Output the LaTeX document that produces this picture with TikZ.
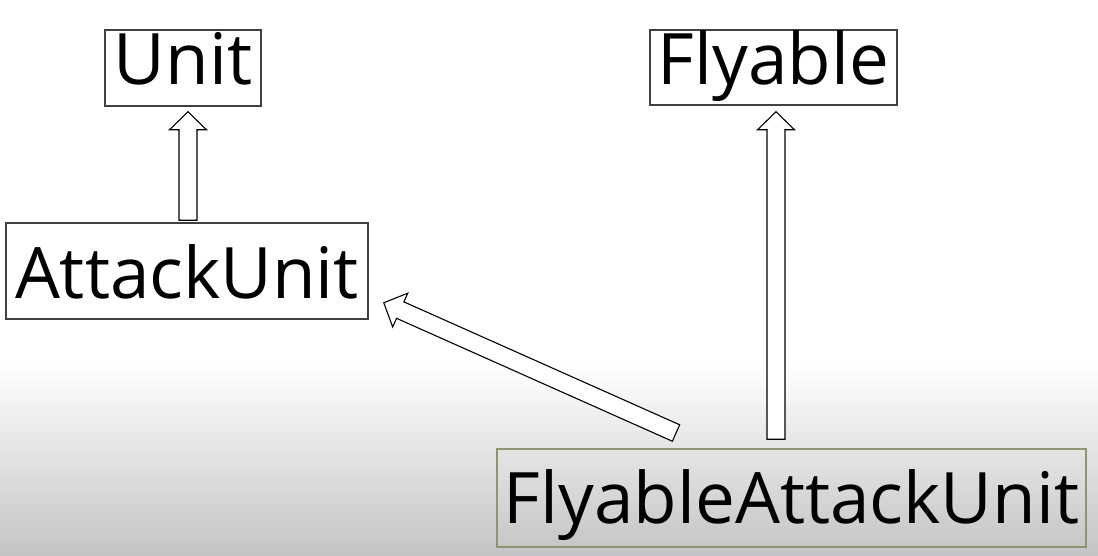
\documentclass[tikz,border=0pt]{standalone}
\usepackage{fontspec}
\setmainfont{Open Sans}
\usetikzlibrary{calc}
\definecolor{boxline}{RGB}{64,64,64}
\definecolor{oliveline}{RGB}{140,152,108}
\definecolor{bggray}{RGB}{196,196,196}
\tikzset{
  umlbox/.style={draw=boxline, line width=1.5pt, inner sep=0pt, anchor=center},
  umltext/.style={inner sep=0pt, font=\fontsize{71}{80}\selectfont, text height=50.7pt, text depth=0pt},
  blockarrow/.style={draw=black, line width=1.1pt, fill=white, line join=miter},
}
% #1 start coordinate, #2 tip coordinate
\newcommand\blockarr[2]{%
  \draw[blockarrow] let \p1=(#1), \p2=(#2),
     \n1={atan2(\y2-\y1,\x2-\x1)}, \n2={veclen(\x2-\x1,\y2-\y1)} in
     [shift={(\p1)}, rotate=\n1]
     (0pt,-9pt) -- ({\n2-18pt},-9pt) -- ({\n2-18pt},-18.5pt) -- ({\n2},0pt)
     -- ({\n2-18pt},18.5pt) -- ({\n2-18pt},9pt) -- (0pt,9pt) -- cycle;}
\begin{document}
\begin{tikzpicture}[x=1pt,y=-1pt]
\useasboundingbox (0,0) rectangle (1098,555);
\fill[white] (0,0) rectangle (1098,555);
\shade[top color=white, bottom color=bggray] (0,363) rectangle (1098,555);

\node[umlbox, minimum width=156pt, minimum height=76pt] (unit) at (183,68) {};
\node[umltext] (unitT) at (183,59) {Unit};

\node[umlbox, minimum width=247pt, minimum height=75pt] (fly) at (773.5,67.5) {};
\node[umltext] (flyT) at (773.5,59) {Flyable};

\node[umlbox, minimum width=362pt, minimum height=96pt] (atk) at (187,271) {};
\node[umltext] (atkT) at (187,273) {AttackUnit};

\node[umlbox, draw=oliveline, minimum width=589pt, minimum height=98pt] (fau) at (791.5,498) {};
\node[umltext] (fauT) at (791.5,498) {FlyableAttackUnit};

\coordinate (a1s) at ($(atk.north)+(1,-2)$);
\coordinate (a1t) at ($(unit.south)+(5,5)$);
\blockarr{a1s}{a1t}

\coordinate (a2s) at ($(fau.north -| fly.south)+(2.5,-9)$);
\coordinate (a2t) at ($(fly.south)+(2.5,6)$);
\blockarr{a2s}{a2t}

\coordinate (a3s) at (676,433);
\coordinate (a3t) at ($(atk.south east)+(15,-17)$);
\blockarr{a3s}{a3t}
\end{tikzpicture}
\end{document}
